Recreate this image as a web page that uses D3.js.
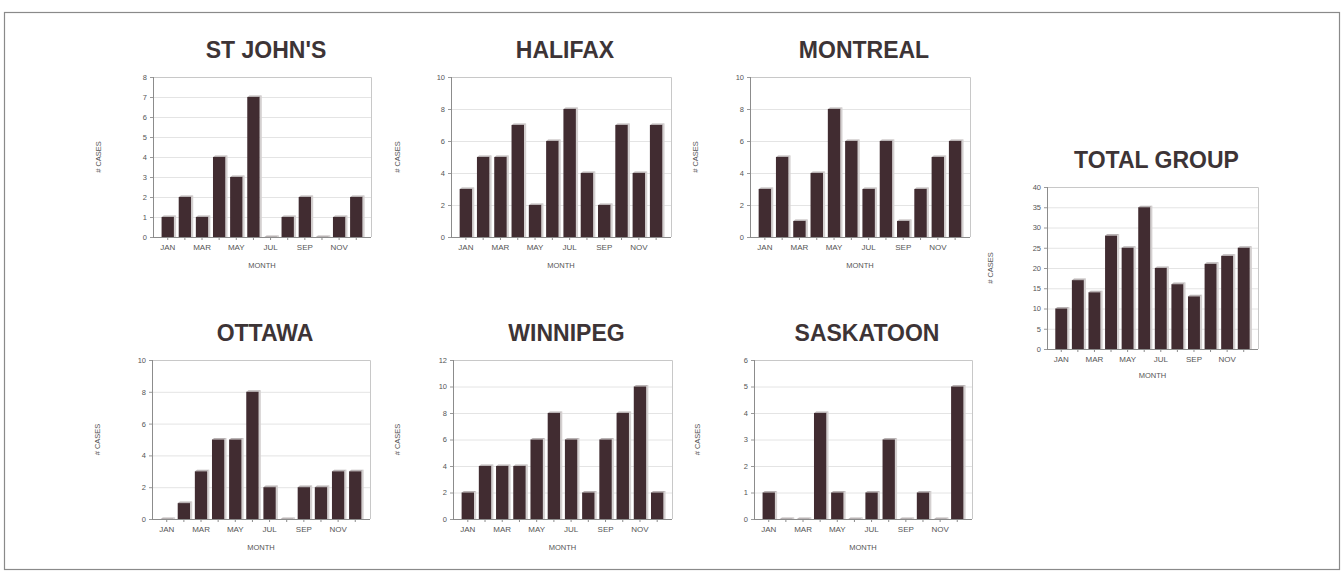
<!DOCTYPE html>
<html>
<head>
<meta charset="utf-8">
<script src="https://cdn.jsdelivr.net/npm/d3@7"></script>
<style>
  body { margin: 0; background: #fff; }
  svg { display: block; font-family: "Liberation Sans", Arial, sans-serif; }
</style>
</head>
<body>
<svg id="chart" width="1344" height="580"></svg>
<script>
const months = ["JAN","FEB","MAR","APR","MAY","JUN","JUL","AUG","SEP","OCT","NOV","DEC"];
const stJohns   = [1,2,1,4,3,7,0,1,2,0,1,2];
const halifax   = [3,5,5,7,2,6,8,4,2,7,4,7];
const montreal  = [3,5,1,4,8,6,3,6,1,3,5,6];
const ottawa    = [0,1,3,5,5,8,2,0,2,2,3,3];
const winnipeg  = [2,4,4,4,6,8,6,2,6,8,10,2];
const saskatoon = [1,0,0,4,1,0,1,3,0,1,0,5];
const totalGroup = [10,17,14,28,25,35,20,16,13,21,23,25];

const stJohnsTicks = [0,1,2,3,4,5,6,7,8];
const tenTicks = [0,2,4,6,8,10];
const winnipegTicks = [0,2,4,6,8,10,12];
const saskatoonTicks = [0,1,2,3,4,5,6];
const totalTicks = [0,5,10,15,20,25,30,35,40];

const panels = [
  {title: "ST JOHN'S", values: stJohns, ticks: stJohnsTicks, box: [153, 77, 371, 237], labelX: 101, monthDy: 31},
  {title: "HALIFAX", values: halifax, ticks: tenTicks, box: [451, 77, 671, 237], labelX: 400, monthDy: 31},
  {title: "MONTREAL", values: montreal, ticks: tenTicks, box: [750, 77, 970, 237], labelX: 698, monthDy: 31},
  {title: "OTTAWA", values: ottawa, ticks: tenTicks, box: [152, 360, 370, 519], labelX: 100, monthDy: 31},
  {title: "WINNIPEG", values: winnipeg, ticks: winnipegTicks, box: [453, 360, 672, 519], labelX: 400, monthDy: 31},
  {title: "SASKATOON", values: saskatoon, ticks: saskatoonTicks, box: [754, 360, 972, 519], labelX: 700, monthDy: 31},
  {title: "TOTAL GROUP", values: totalGroup, ticks: totalTicks, box: [1047, 187, 1258, 349], labelX: 993, monthDy: 29}
];

const svg = d3.select("#chart");

// outer frame
svg.append("rect")
  .attr("x", 4.5).attr("y", 12.5)
  .attr("width", 1335).attr("height", 557)
  .attr("fill", "none").attr("stroke", "#8a8a8a").attr("stroke-width", 1.2);

const barFill = "#412c31";
const lite = "#d4d0d0";

panels.forEach(p => {
  const [x0, y0, x1, y1] = p.box;
  const g = svg.append("g");

  const x = d3.scaleBand().domain(months).range([x0, x1]).paddingInner(0.28).paddingOuter(0.5);
  const y = d3.scaleLinear().domain([0, d3.max(p.ticks)]).range([y1, y0]);

  // grid lines
  g.append("g").selectAll("line").data(p.ticks.slice(1, -1)).join("line")
    .attr("x1", x0).attr("x2", x1)
    .attr("y1", d => y(d) + 0.5).attr("y2", d => y(d) + 0.5)
    .attr("stroke", "#e4e4e4").attr("stroke-width", 1);

  // plot box top/right
  g.append("path")
    .attr("d", `M${x0},${y0 + 0.5}H${x1 + 0.5}V${y1}`)
    .attr("fill", "none").attr("stroke", "#c8c8c8").attr("stroke-width", 1);

  // bars with a light bevel on top and right
  const bars = g.append("g").selectAll("g").data(p.values).join("g");
  const dx = 2.2, dy = 1.6;
  bars.append("path")
    .attr("d", (d, i) => {
      const bx = x(months[i]), bw = x.bandwidth(), by = y(d);
      return `M${bx + bw},${y1}V${by}L${bx + bw + dx},${by - dy}V${y1}Z`;
    })
    .attr("fill", lite);
  bars.append("path")
    .attr("d", (d, i) => {
      const bx = x(months[i]), bw = x.bandwidth(), by = y(d);
      return `M${bx},${by}L${bx + dx},${by - dy}H${bx + bw + dx}L${bx + bw},${by}Z`;
    })
    .attr("fill", "#b9b3b4");
  bars.append("rect")
    .attr("x", (d, i) => x(months[i]))
    .attr("y", d => y(d))
    .attr("width", x.bandwidth())
    .attr("height", d => y1 - y(d))
    .attr("fill", barFill);

  // x axis
  const xAxis = d3.axisBottom(x)
    .tickSize(3)
    .tickFormat((d, i) => i % 2 === 0 ? d : "");
  const gx = g.append("g").attr("transform", `translate(0,${y1})`).call(xAxis);
  gx.select(".domain").attr("stroke", "#8c8c8c").attr("d", `M${x0},0.5H${x1}`);
  gx.selectAll(".tick line").attr("stroke", "#8c8c8c");
  gx.selectAll(".tick text").attr("fill", "#555").attr("font-size", 8).attr("dy", "0.9em");

  // y axis
  const yAxis = d3.axisLeft(y).tickValues(p.ticks).tickSize(3).tickFormat(d3.format("d"));
  const gy = g.append("g").attr("transform", `translate(${x0},0)`).call(yAxis);
  gy.select(".domain").attr("stroke", "#8c8c8c").attr("d", `M0.5,${y0}V${y1}`);
  gy.selectAll(".tick line").attr("stroke", "#9a9a9a");
  gy.selectAll(".tick text").attr("fill", "#555").attr("font-size", 7.5);

  // axis titles
  g.append("text")
    .attr("x", (x0 + x1) / 2).attr("y", y1 + p.monthDy)
    .attr("text-anchor", "middle")
    .attr("font-size", 7.5).attr("fill", "#555")
    .text("MONTH");
  g.append("text")
    .attr("transform", `translate(${p.labelX},${(y0 + y1) / 2}) rotate(-90)`)
    .attr("text-anchor", "middle")
    .attr("font-size", 7.5).attr("fill", "#555")
    .text("# CASES");

  // panel title
  g.append("text")
    .attr("x", (x0 + x1) / 2 + 4).attr("y", y0 - 19)
    .attr("text-anchor", "middle")
    .attr("font-size", 23).attr("font-weight", "bold").attr("fill", "#3d3436")
    .text(p.title);
});
</script>
</body>
</html>
